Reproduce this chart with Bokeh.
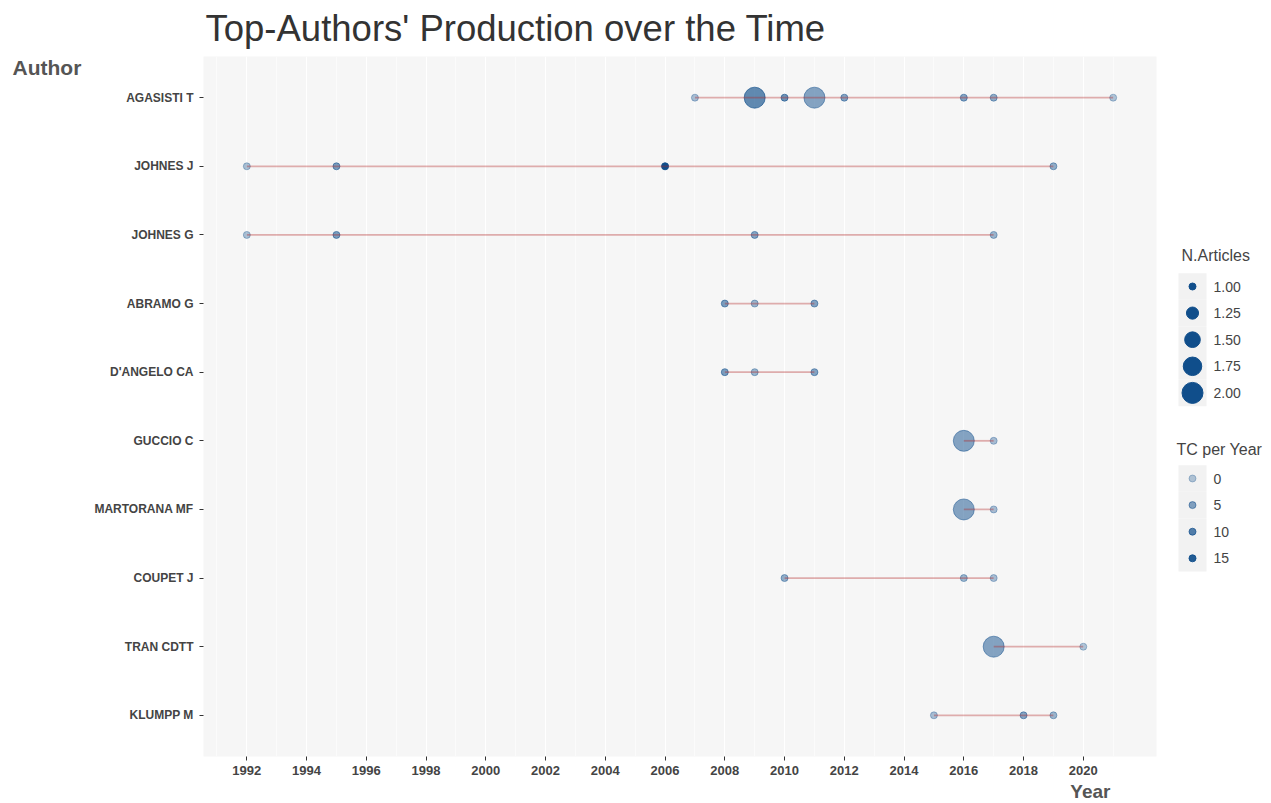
import math
from bokeh.plotting import figure
from bokeh.models import FactorRange, Range1d, FixedTicker, ColumnDataSource
from bokeh.layouts import row, column
from bokeh.embed import file_html
from bokeh.resources import INLINE
from bokeh.core.properties import value

# ---------------- data ----------------
authors = ["AGASISTI T", "JOHNES J", "JOHNES G", "ABRAMO G", "D'ANGELO CA",
           "GUCCIO C", "MARTORANA MF", "COUPET J", "TRAN CDTT", "KLUMPP M"]

pt_author = (["AGASISTI T"] * 8 + ["JOHNES J"] * 4 + ["JOHNES G"] * 4 +
             ["ABRAMO G"] * 3 + ["D'ANGELO CA"] * 3 + ["GUCCIO C"] * 2 +
             ["MARTORANA MF"] * 2 + ["COUPET J"] * 3 + ["TRAN CDTT"] * 2 +
             ["KLUMPP M"] * 3)
pt_year = [2007, 2009, 2010, 2011, 2012, 2016, 2017, 2021,
           1992, 1995, 2006, 2019,
           1992, 1995, 2009, 2017,
           2008, 2009, 2011,
           2008, 2009, 2011,
           2016, 2017,
           2016, 2017,
           2010, 2016, 2017,
           2017, 2020,
           2015, 2018, 2019]
pt_articles = [1, 2, 1, 2, 1, 1, 1, 1,
               1, 1, 1, 1,
               1, 1, 1, 1,
               1, 1, 1,
               1, 1, 1,
               2, 1,
               2, 1,
               1, 1, 1,
               2, 1,
               1, 1, 1]
pt_tc = [1.2, 8.5, 7.3, 4.9, 4.9, 4.9, 3.6, 0.4,
         1.0, 6.0, 17.0, 3.6,
         1.0, 6.0, 4.9, 2.5,
         6.0, 2.5, 4.9,
         6.0, 2.5, 4.9,
         4.9, 1.2,
         4.9, 1.2,
         3.6, 2.5, 1.2,
         4.9, 0.4,
         1.2, 4.9, 2.5]

x_ticks = list(range(1992, 2021, 2))
size_legend_vals = [1.00, 1.25, 1.50, 1.75, 2.00]
size_legend_labels = ["1.00", "1.25", "1.50", "1.75", "2.00"]
tc_legend_vals = [0, 5, 10, 15]
tc_legend_labels = ["0", "5", "10", "15"]

# ---------------- style helpers ----------------
FONT = "Liberation Sans"
BLUE = "#104E8B"
LINE = "#B22222"
A_MIN, A_MAX = 0.3, 1.0
TC_MAX = max(pt_tc)
ART_MIN, ART_MAX = min(pt_articles), max(pt_articles)


def size_of(n):
    t = (n - ART_MIN) / (ART_MAX - ART_MIN)
    return 3.5 * math.sqrt(4 + 32 * t)


def alpha_of(tc):
    return A_MIN + (A_MAX - A_MIN) * min(tc, TC_MAX) / TC_MAX


TOTAL_W = 1270
TOP_H = 56                              # frame top at screen y 56
FRAME_H = 700                           # frame bottom at screen y 756
ROW_BOTTOM = 24
ROW_H = FRAME_H + ROW_BOTTOM
BOT_H = 802 - TOP_H - ROW_H             # 22
FR_TOP, FR_BOT = TOP_H, TOP_H + FRAME_H
LEFT_W, MAIN_W = 90, 1078
LEG_W = TOTAL_W - LEFT_W - MAIN_W       # 102


def blank_fig(width, height, ymin, ymax, border_bottom=0):
    f = figure(width=width, height=height, output_backend="svg",
               toolbar_location=None, title_location=None,
               x_range=Range1d(0, width), y_range=Range1d(ymax, ymin),
               min_border_left=0, min_border_right=0,
               min_border_top=0, min_border_bottom=border_bottom)
    f.axis.visible = False
    f.grid.visible = False
    f.outline_line_color = None
    f.background_fill_color = "white"
    f.border_fill_color = "white"
    return f


# ---------------- top strip: title ----------------
top = blank_fig(TOTAL_W, TOP_H, 0, TOP_H)
top.text(x=[205], y=[28], text=["Top-Authors' Production over the Time"],
         text_font=value(FONT), text_font_size="36.5px", text_color="#333333",
         text_baseline="middle")

# ---------------- left strip: y-axis title ----------------
lf = blank_fig(LEFT_W, ROW_H, FR_TOP, FR_BOT, ROW_BOTTOM)
lf.text(x=[12], y=[67], text=["Author"], text_font=value(FONT),
        text_font_size="21px", text_font_style="bold", text_color="#555555",
        text_baseline="middle")

# ---------------- main figure ----------------
y_factors = list(reversed(authors))
p = figure(width=MAIN_W, height=ROW_H, output_backend="svg",
           toolbar_location=None, title_location=None,
           x_range=Range1d(1990.55, 2022.45),
           y_range=FactorRange(factors=y_factors, range_padding=0.1,
                               range_padding_units="absolute"),
           min_border_left=203 - LEFT_W, min_border_right=12,
           min_border_top=0, min_border_bottom=ROW_BOTTOM)
p.background_fill_color = "#F6F6F6"
p.border_fill_color = "white"
p.outline_line_color = None

ticker = FixedTicker(ticks=x_ticks, minor_ticks=list(range(1991, 2023, 2)))
p.xaxis.ticker = ticker
p.xgrid.ticker = ticker
p.xgrid.grid_line_color = "white"
p.xgrid.grid_line_width = 1.1
p.xgrid.minor_grid_line_color = "white"
p.xgrid.minor_grid_line_width = 0.6
p.ygrid.grid_line_color = None

for ax in (p.xaxis[0], p.yaxis[0]):
    ax.axis_line_color = None
    ax.major_tick_line_color = "#333333"
    ax.major_tick_out = 4
    ax.major_tick_in = 0
    ax.minor_tick_line_color = None
    ax.major_label_text_font = FONT
    ax.major_label_text_font_style = "bold"
    ax.major_label_text_color = "#444444"
p.xaxis.major_label_text_font_size = "13px"
p.yaxis.major_label_text_font_size = "12px"
p.xaxis.major_label_standoff = 5
p.yaxis.major_label_standoff = 6

src = ColumnDataSource(dict(
    author=pt_author, year=pt_year,
    size=[size_of(n) for n in pt_articles],
    alpha=[alpha_of(t) for t in pt_tc]))
p.scatter(x="year", y="author", size="size", source=src,
          fill_color=BLUE, fill_alpha="alpha", line_color=BLUE,
          line_alpha="alpha", line_width=1)

xs, ys = [], []
for a in authors:
    yrs = sorted(y for au, y in zip(pt_author, pt_year) if au == a)
    xs.append(yrs)
    ys.append([a] * len(yrs))
p.multi_line(xs=xs, ys=ys, line_color=LINE, line_alpha=0.35, line_width=1.8)

# ---------------- legend strip ----------------
lg = blank_fig(LEG_W, ROW_H, FR_TOP, FR_BOT, ROW_BOTTOM)
KEY_X, KEY_W, KEY_H = 24, 28, 26.6
TXT_X = 45
size_rows = [286 + i * KEY_H for i in range(len(size_legend_vals))]
tc_rows = [478 + i * KEY_H for i in range(len(tc_legend_vals))]

lg.rect(x=[KEY_X] * len(size_rows), y=size_rows, width=KEY_W, height=KEY_H,
        fill_color="#F2F2F2", line_color=None)
lg.rect(x=[KEY_X] * len(tc_rows), y=tc_rows, width=KEY_W, height=KEY_H,
        fill_color="#F2F2F2", line_color=None)
lg.scatter(x=[KEY_X] * len(size_rows), y=size_rows,
           size=[size_of(v) for v in size_legend_vals],
           fill_color=BLUE, line_color=BLUE, line_width=1)
lg.scatter(x=[KEY_X] * len(tc_rows), y=tc_rows, size=size_of(1),
           fill_color=BLUE, line_color=BLUE, line_width=1,
           fill_alpha=[alpha_of(v) for v in tc_legend_vals],
           line_alpha=[alpha_of(v) for v in tc_legend_vals])
lg.text(x=[TXT_X] * len(size_rows), y=size_rows, text=size_legend_labels,
        text_font=value(FONT), text_font_size="14px", text_color="#444444",
        text_baseline="middle")
lg.text(x=[TXT_X] * len(tc_rows), y=tc_rows, text=tc_legend_labels,
        text_font=value(FONT), text_font_size="14px", text_color="#444444",
        text_baseline="middle")
lg.text(x=[13, 8], y=[255, 449], text=["N.Articles", "TC per Year"],
        text_font=value(FONT), text_font_size="16px", text_color="#444444",
        text_baseline="middle")

# ---------------- bottom strip: x-axis title ----------------
bot = blank_fig(TOTAL_W, BOT_H, 0, BOT_H)
bot.text(x=[1110], y=[BOT_H / 2], text=["Year"], text_font=value(FONT),
         text_font_size="19px", text_font_style="bold", text_color="#555555",
         text_align="right", text_baseline="middle")

layout = column(top, row(lf, p, lg), bot)
open("out.html", "w").write(file_html(layout, INLINE))
